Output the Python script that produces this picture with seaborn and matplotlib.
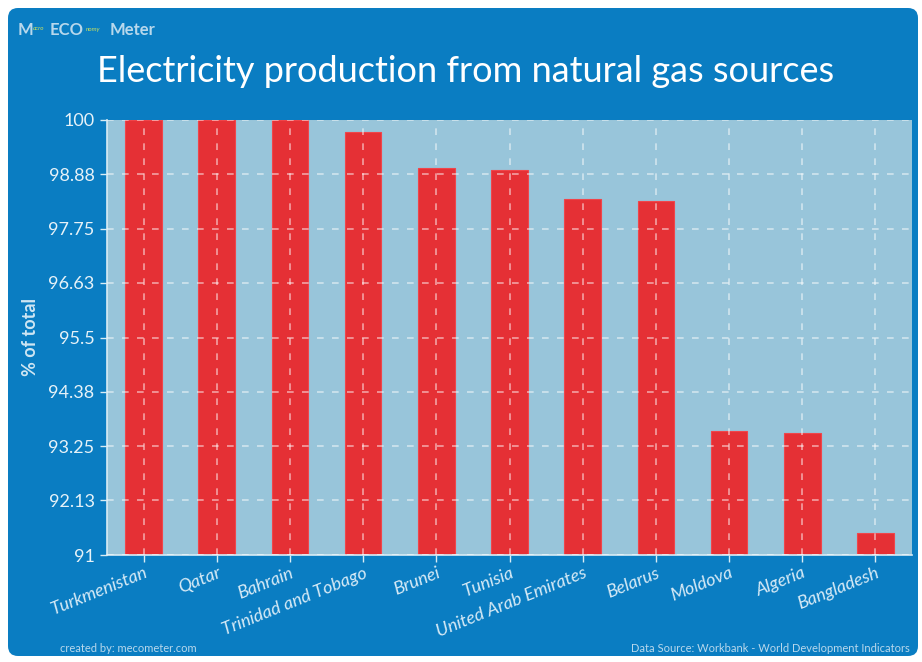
import matplotlib
matplotlib.use("Agg")
import matplotlib.pyplot as plt
from matplotlib.patches import FancyBboxPatch
import seaborn as sns
import pandas as pd

countries = ["Turkmenistan", "Qatar", "Bahrain", "Trinidad and Tobago", "Brunei",
             "Tunisia", "United Arab Emirates", "Belarus", "Moldova", "Algeria",
             "Bangladesh"]
values = [100.0, 100.0, 100.0, 99.76, 99.0, 98.97, 98.36, 98.32, 93.57, 93.53, 91.46]
y_ticks = [91, 92.13, 93.25, 94.38, 95.5, 96.63, 97.75, 98.88, 100]
y_tick_labels = ["91", "92.13", "93.25", "94.38", "95.5", "96.63", "97.75", "98.88", "100"]

df = pd.DataFrame({"country": countries, "value": values})

sns.set_theme(style="white")
plt.rcParams["font.family"] = ["Lato", "DejaVu Sans"]

W, H = 922, 662
fig = plt.figure(figsize=(W / 100, H / 100), dpi=100)
fig.patch.set_facecolor("white")

# rounded blue card behind everything
bg = fig.add_axes([0, 0, 1, 1], zorder=-5)
bg.set_axis_off()
bg.set_xlim(0, W)
bg.set_ylim(H, 0)
bg.add_patch(FancyBboxPatch((8, 8), 910, 648,
                            boxstyle="round,pad=0,rounding_size=10",
                            facecolor="#0a7dc2", edgecolor="none"))

ax = fig.add_axes([107 / W, 1 - 555 / H, (912 - 107) / W, (555 - 120) / H], zorder=1)
ax.set_facecolor("#98c5da")

sns.barplot(data=df, x="country", y="value", color="#e53035", saturation=1,
            width=0.5, edgecolor="#f0454a", linewidth=0.8, ax=ax, zorder=2)

ax.set_ylim(91, 100)
ax.set_xlim(-0.5, len(countries) - 0.5)
ax.set_yticks(y_ticks)
ax.set_yticklabels(y_tick_labels)

# dashed grid drawn over the bars
ax.grid(True, axis="both", color="white", linestyle=(0, (4, 5)), linewidth=1.2,
        alpha=0.55, zorder=3)
ax.set_axisbelow(False)

for side in ["top", "right"]:
    ax.spines[side].set_visible(False)
for side in ["left", "bottom"]:
    ax.spines[side].set_color("#d8ecf5")
    ax.spines[side].set_linewidth(1.2)

ax.tick_params(axis="y", colors="#d8ecf5", labelsize=13, length=5, width=1,
               direction="out", left=True, pad=4)
ax.tick_params(axis="x", colors="#d8ecf5", labelsize=13, length=5, width=1,
               direction="out", bottom=True, pad=2)
for lbl in ax.get_yticklabels():
    lbl.set_color("#e6f2f8")
for lbl in ax.get_xticklabels():
    lbl.set_rotation(22)
    lbl.set_ha("right")
    lbl.set_rotation_mode("anchor")
    lbl.set_style("italic")
    lbl.set_color("#d6eaf6")

ax.set_xlabel("")
ax.set_ylabel("% of total", color="#cfe6f3", fontsize=13, fontweight="bold")
ax.yaxis.set_label_coords(-0.085, 0.5)

fig.text(97 / W, 1 - 72 / H, "Electricity production from natural gas sources",
         color="white", fontsize=26, ha="left", va="center")

# brand mark
brand = "#b8d8ec"
fig.text(18 / W, 1 - 30 / H, "M", color=brand, fontsize=12, fontweight="bold",
         ha="left", va="center")
fig.text(33 / W, 1 - 29 / H, "acro", color="#c8e060", fontsize=4.5, style="italic",
         ha="left", va="center")
fig.text(50 / W, 1 - 30 / H, "ECO", color=brand, fontsize=12, fontweight="bold",
         ha="left", va="center")
fig.text(86 / W, 1 - 29 / H, "nomy", color="#c8e060", fontsize=4.5, style="italic",
         ha="left", va="center")
fig.text(110 / W, 1 - 30 / H, "Meter", color=brand, fontsize=12, fontweight="bold",
         ha="left", va="center")

fig.text(60 / W, 1 - 648 / H, "created by: mecometer.com", color=brand,
         fontsize=8, ha="left", va="center")
fig.text(910 / W, 1 - 648 / H, "Data Source: Workbank - World Development Indicators",
         color=brand, fontsize=8, ha="right", va="center")

fig.savefig("out.png", dpi=100, facecolor=fig.get_facecolor())
